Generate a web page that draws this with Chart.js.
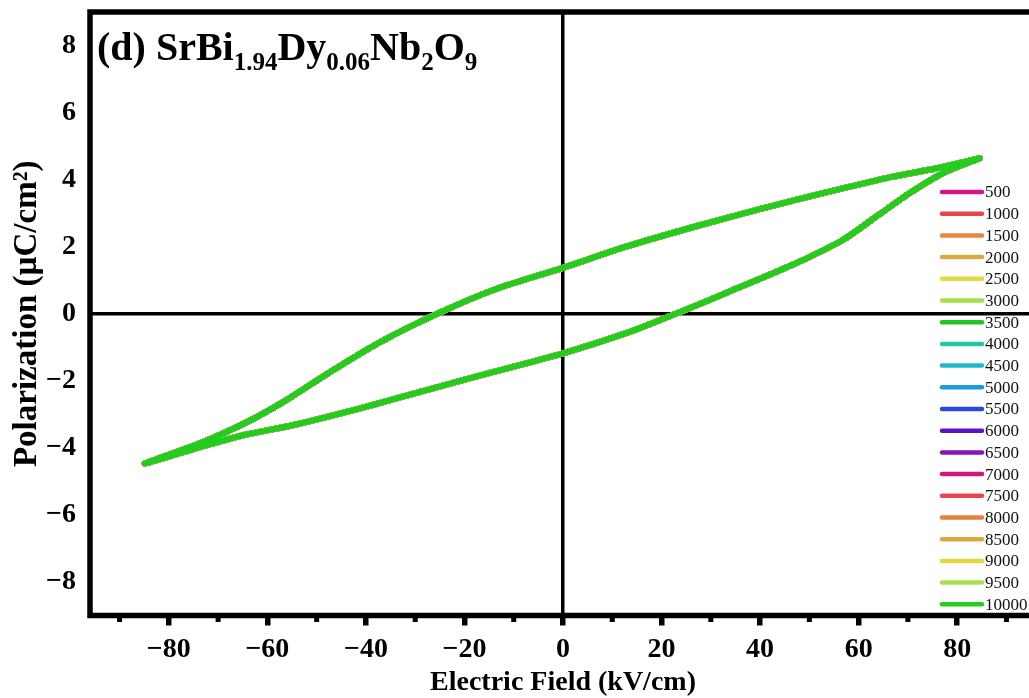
<!DOCTYPE html>
<html>
<head>
<meta charset="utf-8">
<script src="https://cdn.jsdelivr.net/npm/chart.js@4.4.0/dist/chart.umd.min.js"></script>
<style>
  html, body { margin: 0; padding: 0; background: #fff; overflow: hidden; }
  #wrap { width: 1046px; height: 698px; }
</style>
</head>
<body>
<div id="wrap"><canvas id="peChart" width="1046" height="698"></canvas></div>
<script>
// ========== DATA ==========
const seriesLabels = ['500', '1000', '1500', '2000', '2500', '3000', '3500', '4000', '4500', '5000',
                      '5500', '6000', '6500', '7000', '7500', '8000', '8500', '9000', '9500', '10000'];
const seriesColors = ['#d4168e', '#e8464b', '#e58741', '#dca843', '#e0d946', '#a6de4c', '#20c426', '#1fc8a2',
                      '#1fb9c9', '#1a9be0', '#2a47e0', '#5b12c9', '#8b12b9', '#d0187f', '#e8454f', '#e58040',
                      '#d9a840', '#e1d840', '#a8e050', '#25cc1f'];

// P-E loop: upper branch (E going down) then lower branch (E going up)
const loopE = [84.6, 75.8, 67.0, 53.4, 39.9, 26.3, 12.8, 0, -13.7, -25.2, -37.4, -47.6, -57.1, -64.5, -73.4, -84.9,
               -73.0, -64.5, -54.4, -40.8, -27.3, -13.7, 0, 12.8, 22.9, 33.1, 46.6, 56.8, 63.6, 70.4, 77.1, 84.6];
const loopP = [4.64, 4.34, 4.09, 3.62, 3.12, 2.58, 2.00, 1.37, 0.73, 0.02, -0.87, -1.77, -2.66, -3.26, -3.85, -4.47,
               -3.95, -3.61, -3.31, -2.81, -2.26, -1.72, -1.18, -0.58, 0.0, 0.62, 1.46, 2.20, 2.90, 3.60, 4.19, 4.64];

const xTickValues = [-80, -60, -40, -20, 0, 20, 40, 60, 80];
const xMinorTicks = [-90, -70, -50, -30, -10, 10, 30, 50, 70, 90];
const yTickValues = [-8, -6, -4, -2, 0, 2, 4, 6, 8];

const titleParts = [['(d) SrBi', false], ['1.94', true], ['Dy', false], ['0.06', true],
                    ['Nb', false], ['2', true], ['O', false], ['9', true]];

const FONT = "'Liberation Serif', 'Times New Roman', serif";
const minus = v => String(v).replace('-', '\u2212');
const zeroOnly = ctx => (ctx.tick && ctx.tick.value === 0) ? '#000' : 'rgba(0,0,0,0)';
const noPad = s => { s.paddingTop = 0; s.paddingBottom = 0; s.paddingLeft = 0; s.paddingRight = 0; };

// ========== PLUGINS ==========
const framePlugin = {
    id: 'frame',
    afterDraw(chart) {
        const { ctx, chartArea: a, scales: { x } } = chart;
        ctx.save();
        ctx.strokeStyle = '#000';
        ctx.lineWidth = 5.5;
        ctx.strokeRect(a.left, a.top, a.right - a.left, a.bottom - a.top);
        // minor ticks on the x axis
        ctx.fillStyle = '#000';
        xMinorTicks.forEach(v => {
            const px = x.getPixelForValue(v);
            ctx.fillRect(px - 2.5, a.bottom, 5, 6.5);
        });
        ctx.restore();
    }
};

const titlePlugin = {
    id: 'plotTitle',
    afterDraw(chart) {
        const { ctx } = chart;
        ctx.save();
        ctx.fillStyle = '#000';
        ctx.textBaseline = 'alphabetic';
        let x = 97;
        const base = 60;
        titleParts.forEach(([txt, sub]) => {
            ctx.font = sub ? `bold 25px ${FONT}` : `bold 40px ${FONT}`;
            ctx.fillText(txt, x, sub ? base + 10 : base);
            x += ctx.measureText(txt).width;
        });
        ctx.restore();
    }
};

const legendPlugin = {
    id: 'sideLegend',
    afterDraw(chart) {
        const { ctx } = chart;
        ctx.save();
        ctx.font = `17px ${FONT}`;
        ctx.textBaseline = 'middle';
        ctx.lineCap = 'round';
        chart.data.datasets.forEach((ds, i) => {
            const y = 192 + i * 21.7;
            ctx.strokeStyle = ds.borderColor;
            ctx.lineWidth = 4.5;
            ctx.beginPath();
            ctx.moveTo(942, y);
            ctx.lineTo(982, y);
            ctx.stroke();
            ctx.fillStyle = '#111';
            ctx.fillText(ds.label, 985, y + 1);
        });
        ctx.restore();
    }
};

// ========== CHART ==========
const datasets = seriesLabels.map((lab, i) => ({
    label: lab,
    data: loopE.map((e, k) => ({ x: e, y: loopP[k] })),
    borderColor: seriesColors[i],
    backgroundColor: seriesColors[i],
    borderWidth: 6,
    borderCapStyle: 'round',
    borderJoinStyle: 'round',
    pointRadius: 0,
    showLine: true,
    tension: 0.25,
    fill: false,
    order: seriesLabels.length - 1 - i
}));

new Chart(document.getElementById('peChart'), {
    type: 'scatter',
    data: { datasets },
    options: {
        responsive: false,
        animation: false,
        layout: { padding: { top: 12, right: 10, left: 0, bottom: 0 } },
        plugins: { legend: { display: false }, tooltip: { enabled: false } },
        scales: {
            x: {
                type: 'linear',
                min: -96, max: 96,
                afterFit: s => { s.height = 82.5; noPad(s); },
                afterBuildTicks: s => { s.ticks = xTickValues.map(v => ({ value: v })); },
                border: { display: false },
                grid: { color: zeroOnly, lineWidth: 3.5, drawTicks: true, tickLength: 10, tickWidth: 5.5, tickColor: '#000' },
                ticks: {
                    color: '#000', padding: 7, maxRotation: 0, autoSkip: false,
                    font: { family: FONT, size: 28, weight: 'bold' },
                    callback: v => minus(v)
                },
                title: {
                    display: true, text: 'Electric Field (kV/cm)', color: '#000',
                    font: { family: FONT, size: 28, weight: 'bold', lineHeight: 1 },
                    padding: { top: 0, bottom: 1 }
                }
            },
            y: {
                type: 'linear',
                min: -9, max: 9,
                afterFit: s => { s.width = 90; noPad(s); },
                afterBuildTicks: s => { s.ticks = yTickValues.map(v => ({ value: v })); },
                border: { display: false },
                grid: { color: zeroOnly, lineWidth: 3.5, drawTicks: false },
                ticks: {
                    color: '#000', padding: 14, autoSkip: false,
                    font: { family: FONT, size: 28, weight: 'bold' },
                    callback: v => minus(v)
                },
                title: {
                    display: true, text: 'Polarization (\u00b5C/cm\u00b2)', color: '#000',
                    font: { family: FONT, size: 33, weight: 'bold', lineHeight: 1 },
                    padding: { top: 11, bottom: 0 }
                }
            }
        }
    },
    plugins: [framePlugin, titlePlugin, legendPlugin]
});
</script>
</body>
</html>
